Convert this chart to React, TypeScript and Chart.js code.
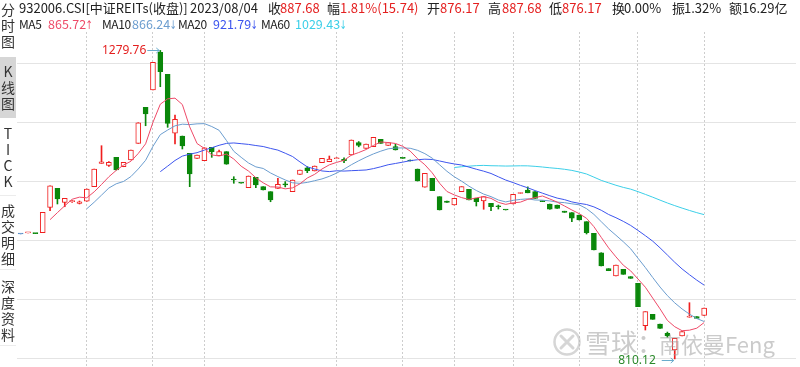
import React, { useEffect, useRef } from "react";
import { Chart, registerables } from "chart.js";

Chart.register(...registerables);

// ---------- data ----------
const SLOTS = 106; // 94 candles + empty room on the right
const opens = [
  1000.3, 1002.0, 1001.2, 1002.3, 1040.9, 1069.8, 1048.5, 1049.5, 1047.0, 1050.1,
  1072.3, 1107.9, 1104.8, 1117.0, 1102.7, 1112.9, 1138.3, 1193.1, 1219.5, 1277.0,
  1243.4, 1153.6, 1149.4, 1123.1, 1115.5, 1111.9, 1132.2, 1119.5, 1125.6, 1083.0,
  1078.0, 1070.8, 1086.6, 1072.3, 1064.7, 1069.8, 1076.5, 1064.7, 1091.1, 1101.2,
  1096.2, 1108.8, 1110.3, 1114.9, 1113.9, 1120.5, 1139.3, 1130.7, 1133.2, 1144.4,
  1135.3, 1133.2, 1116.0, 1113.0, 1099.2, 1071.4, 1085.1, 1057.1, 1050.5, 1044.4,
  1064.7, 1068.3, 1054.6, 1050.5, 1047.0, 1042.5, 1037.2, 1045.9, 1062.0, 1067.0,
  1064.7, 1050.5, 1045.9, 1044.4, 1035.0, 1032.7, 1029.2, 1019.0, 1001.3, 971.8,
  947.5, 936.3, 946.5, 935.3, 925.2, 860.7, 878.0, 863.3, 849.0, 823.7,
  845.0, 873.5, 874.5, 876.17,
];
const closes = [
  1000.3, 1002.5, 1000.8, 1033.3, 1073.8, 1053.6, 1054.6, 1050.5, 1049.4, 1068.8,
  1099.2, 1110.3, 1109.4, 1097.7, 1109.4, 1128.1, 1169.7, 1182.9, 1261.6, 1247.3,
  1168.8, 1174.9, 1134.2, 1091.6, 1120.5, 1131.6, 1125.6, 1125.6, 1106.4, 1082.5,
  1077.5, 1088.6, 1074.9, 1067.3, 1052.0, 1075.9, 1075.0, 1082.5, 1097.7, 1096.6,
  1103.8, 1115.5, 1114.4, 1116.4, 1112.0, 1143.4, 1135.3, 1137.3, 1147.5, 1138.3,
  1139.3, 1128.1, 1115.5, 1111.4, 1080.9, 1092.7, 1066.2, 1036.8, 1048.5, 1054.6,
  1072.3, 1052.0, 1049.4, 1057.1, 1041.8, 1041.8, 1036.8, 1060.7, 1063.0, 1063.0,
  1054.6, 1049.5, 1037.9, 1039.4, 1033.2, 1024.2, 1021.6, 1002.3, 975.9, 951.6,
  944.4, 953.1, 938.9, 932.8, 889.6, 882.0, 870.4, 856.7, 845.0, 841.5,
  851.6, 874.5, 871.94, 887.68,
];
const highs = [
  1000.3, 1002.5, 1001.2, 1033.3, 1073.8, 1069.8, 1054.6, 1051.5, 1050.5, 1068.8,
  1099.2, 1134.7, 1110.5, 1117.0, 1109.4, 1128.1, 1169.7, 1193.1, 1261.6, 1279.76,
  1243.4, 1181.4, 1149.4, 1123.1, 1120.5, 1131.6, 1132.2, 1128.1, 1125.6, 1087.5,
  1078.0, 1088.6, 1086.6, 1072.3, 1064.7, 1085.1, 1080.0, 1082.5, 1097.7, 1102.7,
  1103.8, 1115.5, 1119.0, 1116.4, 1116.4, 1143.4, 1141.0, 1137.3, 1147.5, 1144.4,
  1139.3, 1137.0, 1116.0, 1113.0, 1099.2, 1092.7, 1085.1, 1057.1, 1050.5, 1054.6,
  1072.3, 1068.3, 1054.6, 1057.1, 1047.0, 1044.4, 1037.2, 1060.7, 1063.0, 1072.0,
  1064.7, 1050.5, 1045.9, 1044.4, 1035.0, 1032.7, 1029.2, 1019.0, 1001.3, 971.8,
  947.5, 953.1, 946.5, 935.3, 925.2, 882.0, 878.0, 863.3, 851.0, 841.5,
  851.6, 895.7, 874.5, 887.68,
];
const lows = [
  1000.3, 1002.0, 1000.8, 1002.3, 1035.7, 1046.0, 1041.8, 1048.5, 1046.0, 1050.1,
  1072.3, 1107.9, 1103.0, 1097.7, 1102.7, 1112.9, 1138.3, 1165.1, 1219.5, 1224.5,
  1162.7, 1137.3, 1129.7, 1072.3, 1115.5, 1111.9, 1117.0, 1119.5, 1106.4, 1077.5,
  1077.5, 1070.8, 1071.0, 1067.3, 1049.4, 1069.8, 1072.0, 1064.7, 1091.1, 1093.6,
  1096.2, 1108.8, 1110.3, 1114.9, 1108.8, 1120.5, 1133.0, 1130.7, 1133.2, 1138.3,
  1135.3, 1128.1, 1115.5, 1111.4, 1080.9, 1071.4, 1066.2, 1036.8, 1048.5, 1044.4,
  1064.7, 1052.0, 1042.9, 1037.9, 1035.7, 1038.3, 1036.8, 1045.9, 1062.0, 1063.0,
  1054.6, 1049.5, 1037.9, 1039.4, 1033.2, 1019.0, 1021.6, 1000.3, 975.9, 951.6,
  944.4, 936.3, 938.9, 932.8, 889.6, 854.1, 870.4, 856.7, 843.0, 810.12,
  845.0, 873.5, 871.94, 876.17,
];
const yGridValues = [810, 900, 990, 1080, 1170, 1260];
const xGridIndexes = [9, 18, 25, 43, 52, 59, 67, 76, 84, 93];
const maPeriods = [5, 10, 20, 60];
const maNames = ["MA5", "MA10", "MA20", "MA60"];
const maLegendValues = ["865.72", "866.24", "921.79", "1029.43"];
const maLegendArrows = ["↑", "↓", "↓", "↓"];
const maColors = ["#ee4a68", "#6b9dcf", "#3d55ee", "#3ccfe8"];
const highMark = { index: 19, value: 1279.76, text: "1279.76" };
const lowMark = { index: 89, value: 810.12, text: "810.12" };

const headerRow1 = [
  { text: "932006.CSI[中证REITs(收盘)]", x: 19, red: false },
  { text: "2023/08/04", x: 190, red: false },
  { text: "收", x: 268, red: false },
  { text: "887.68", x: 280, red: true },
  { text: "幅", x: 327, red: false },
  { text: "1.81%(15.74)", x: 340, red: true },
  { text: "开", x: 427, red: false },
  { text: "876.17", x: 440, red: true },
  { text: "高", x: 488, red: false },
  { text: "887.68", x: 502, red: true },
  { text: "低", x: 549, red: false },
  { text: "876.17", x: 562, red: true },
  { text: "换", x: 612, red: false },
  { text: "0.00%", x: 624, red: false },
  { text: "振", x: 672, red: false },
  { text: "1.32%", x: 684, red: false },
  { text: "额", x: 729, red: false },
  { text: "16.29亿", x: 742, red: false },
];
const legendX = [19, 102, 178, 261];
const legendValueX = [48, 132, 213, 295];

const sideTabs = [
  { chars: ["分", "时", "图"], top: 1, active: false },
  { chars: ["K", "线", "图"], top: 63, active: true },
  { chars: ["T", "I", "C", "K"], top: 125, active: false },
  { chars: ["成", "交", "明", "细"], top: 202, active: false },
  { chars: ["深", "度", "资", "料"], top: 278, active: false },
];
const sideSeparators = [195, 269, 345];

// ---------- styles ----------
const RED = "#f01e1e";
const GREEN = "#0a870a";
const FLAT = "#5b8fc9";
const TXT = "#222222";
const VAL_RED = "#e41f1f";
const FONT = '"Noto Sans CJK SC", "Noto Sans", sans-serif';

function movingAverage(values: number[], n: number): (number | null)[] {
  return values.map((_, i) => {
    if (i < n - 1) return null;
    let s = 0;
    for (let k = i - n + 1; k <= i; k++) s += values[k];
    return s / n;
  });
}

const extremeMarks = {
  id: "extremeMarks",
  afterDatasetsDraw(chart: any) {
    const { ctx } = chart;
    const xs = chart.scales.x;
    const ys = chart.scales.y;
    ctx.save();
    ctx.font = '12px "Noto Sans", sans-serif';
    ctx.textBaseline = "middle";
    ctx.textAlign = "right";
    const draw = (m: any, color: string, textGap: number, dy: number) => {
      const x = xs.getPixelForValue(m.index);
      const y = Math.round(ys.getPixelForValue(m.value) + dy) + 0.5;
      ctx.fillStyle = color;
      ctx.fillText(m.text, x - textGap, y);
      ctx.strokeStyle = "#6aaccc";
      ctx.lineWidth = 1;
      ctx.beginPath();
      ctx.moveTo(x - 13, y);
      ctx.lineTo(x - 1, y);
      ctx.moveTo(x - 4, y - 2.5);
      ctx.lineTo(x - 1, y);
      ctx.lineTo(x - 4, y + 2.5);
      ctx.stroke();
    };
    draw(highMark, VAL_RED, 14, 0);
    draw(lowMark, "#2b8a2b", 19, 1);
    ctx.restore();
  },
};

export default function App() {
  const canvasRef = useRef<HTMLCanvasElement | null>(null);

  useEffect(() => {
    document.body.style.margin = "0";
    const canvas = canvasRef.current;
    if (!canvas) return;
    const labels = Array.from({ length: SLOTS }, (_, i) => String(i + 1));
    const colors = closes.map((c, i) => {
      const o = opens[i];
      if (c > o) return RED;
      if (c < o) return GREEN;
      if (i === 0) return FLAT;
      return c >= closes[i - 1] ? RED : GREEN;
    });
    const maDatasets = maPeriods.map((p, k) => ({
      type: "line" as const,
      label: maNames[k],
      data: movingAverage(closes, p),
      borderColor: maColors[k],
      borderWidth: 1,
      pointRadius: 0,
      tension: 0,
      order: 0,
    }));
    const chart = new Chart(canvas, {
      type: "bar",
      data: {
        labels,
        datasets: [
          ...maDatasets,
          {
            type: "bar",
            label: "body",
            data: opens.map((o, i) => [o, closes[i]]),
            backgroundColor: colors.map((c) => (c === RED ? "#ffffff" : c)),
            borderColor: colors,
            borderWidth: 1,
            borderSkipped: false,
            barThickness: 5,
            minBarLength: 1,
            grouped: false,
            order: 1,
          },
          {
            type: "bar",
            label: "wick",
            data: lows.map((l, i) => [l, highs[i]]),
            backgroundColor: colors,
            borderWidth: 0,
            barThickness: 1,
            grouped: false,
            order: 2,
          },
        ] as any,
      },
      options: {
        responsive: false,
        animation: false,
        devicePixelRatio: 1,
        layout: { padding: { left: 17, right: 4, top: 32, bottom: 0 } },
        plugins: { legend: { display: false }, tooltip: { enabled: false } },
        scales: {
          x: {
            type: "category",
            offset: true,
            grid: { color: "#cdcdcd", offset: false, drawTicks: false, lineWidth: 1 },
            border: { display: false, dash: [2, 2] },
            ticks: { display: false },
            afterBuildTicks: (s: any) => {
              s.ticks = xGridIndexes.map((v) => ({ value: v }));
            },
            afterFit: (s: any) => {
              s.height = 0;
            },
          },
          y: {
            type: "linear",
            min: 797.8,
            max: 1307.8,
            grid: { color: "#e4e4e4", drawTicks: false },
            border: { display: false },
            ticks: { display: false },
            afterBuildTicks: (s: any) => {
              s.ticks = yGridValues.map((v) => ({ value: v }));
            },
            afterFit: (s: any) => {
              s.width = 0;
            },
          },
        },
      } as any,
      plugins: [extremeMarks],
    });
    return () => chart.destroy();
  }, []);

  const baseText = (x: number, top: number, color: string, size = 13): React.CSSProperties => ({
    position: "absolute",
    left: x,
    top,
    lineHeight: "16px",
    fontSize: size,
    color,
    whiteSpace: "nowrap",
  });

  return (
    <div
      style={{
        position: "relative",
        width: 800,
        height: 367,
        overflow: "hidden",
        background: "#ffffff",
        fontFamily: FONT,
      }}
    >
      <style>{"body{margin:0}"}</style>
      <canvas
        ref={canvasRef}
        width={800}
        height={367}
        style={{ position: "absolute", left: 0, top: 0, width: 800, height: 367 }}
      />
      {headerRow1.map((h, i) => (
        <span key={"h" + i} style={baseText(h.x, 0, h.red ? VAL_RED : TXT)}>
          {h.text}
        </span>
      ))}
      {maNames.map((n, i) => (
        <span key={"mn" + i} style={{ ...baseText(legendX[i], 16, TXT, 12), letterSpacing: "-0.4px" }}>
          {n}
        </span>
      ))}
      {maLegendValues.map((v, i) => (
        <span key={"mv" + i} style={baseText(legendValueX[i], 16, maColors[i], 12.5)}>
          {v}
          <span style={{ display: "inline-block", width: 7, overflow: "visible" }}>
            <span
              style={{
                display: "inline-block",
                marginLeft: -2,
                fontFamily: '"DejaVu Sans", sans-serif',
                fontSize: 12,
                transform: "scaleX(0.7)",
              }}
            >
              {maLegendArrows[i]}
            </span>
          </span>
        </span>
      ))}
      {/* side tabs */}
      <div style={{ position: "absolute", left: 0, top: 57, width: 16, height: 61, background: "#d6d6d6" }} />
      {sideSeparators.map((y, i) => (
        <div key={"sep" + i} style={{ position: "absolute", left: 0, top: y, width: 16, height: 1, background: "#ececec" }} />
      ))}
      {sideTabs.map((t, i) => (
        <div key={"tab" + i} style={{ position: "absolute", left: 0, top: t.top, width: 16, textAlign: "center" }}>
          {t.chars.map((c, k) => (
            <div key={k} style={{ fontSize: 14, lineHeight: "16px", height: 16, color: "#333333" }}>
              {c}
            </div>
          ))}
        </div>
      ))}
      {/* watermark */}
      <svg
        width={30}
        height={30}
        viewBox="0 0 30 30"
        style={{ position: "absolute", left: 552, top: 327, opacity: 0.55 }}
      >
        <circle cx={15} cy={15} r={12.5} fill="none" stroke="#b4b4b4" strokeWidth={2.5} />
        <path d="M9 9 L21 21 M21 9 L9 21" stroke="#b4b4b4" strokeWidth={3} strokeLinecap="round" />
      </svg>
      <span
        style={{
          position: "absolute",
          left: 585,
          top: 326,
          fontSize: 26,
          lineHeight: "32px",
          color: "rgba(160,160,160,0.55)",
          whiteSpace: "nowrap",
        }}
      >
        雪球：
      </span>
      <span
        style={{
          position: "absolute",
          left: 659,
          top: 328,
          fontSize: 22,
          lineHeight: "30px",
          color: "rgba(160,160,160,0.55)",
          whiteSpace: "nowrap",
        }}
      >
        南依曼Feng
      </span>
    </div>
  );
}
